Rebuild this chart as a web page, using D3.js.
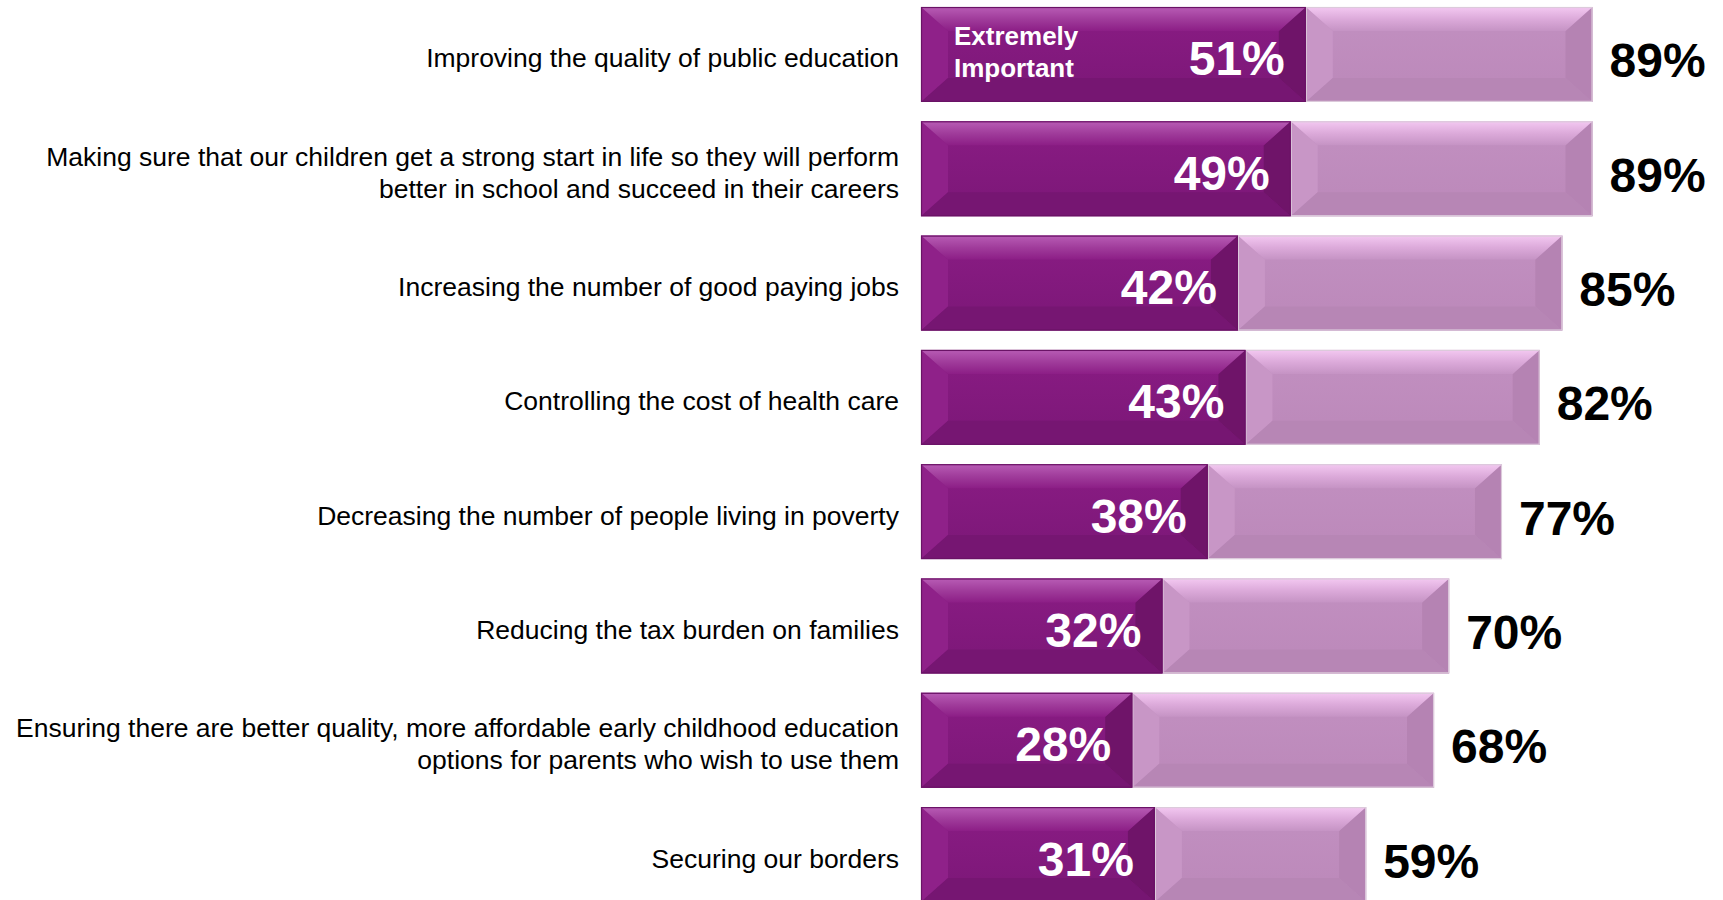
<!DOCTYPE html>
<html>
<head>
<meta charset="utf-8">
<script src="https://cdn.jsdelivr.net/npm/d3@7"></script>
<style>
  html, body { margin: 0; padding: 0; background: #fff; }
  svg { display: block; }
</style>
</head>
<body>
<svg id="chart" width="1723" height="900"></svg>
<script>
const categories = [
  ["Improving the quality of public education"],
  ["Making sure that our children get a strong start in life so they will perform", "better in school and succeed in their careers"],
  ["Increasing the number of good paying jobs"],
  ["Controlling the cost of health care"],
  ["Decreasing the number of people living in poverty"],
  ["Reducing the tax burden on families"],
  ["Ensuring there are better quality, more affordable early childhood education", "options for parents who wish to use them"],
  ["Securing our borders"]
];
const extremelyImportant = [51, 49, 42, 43, 38, 32, 28, 31];
const totalImportant = [89, 89, 85, 82, 77, 70, 68, 59];
const legendLabel = ["Extremely", "Important"];

const svg = d3.select("#chart");
const ids = categories.map((c, i) => i);

const x = d3.scaleLinear().domain([0, 100]).range([921, 1675.5]);
const y = d3.scaleBand().domain(ids).range([-2.7, 911.7]).paddingInner(0.17).paddingOuter(0.085);

const defs = svg.append("defs");
function grad(id, stops) {
  const g = defs.append("linearGradient").attr("id", id).attr("x1", 0).attr("y1", 0).attr("x2", 0).attr("y2", 1);
  stops.forEach(s => g.append("stop").attr("offset", s[0]).attr("stop-color", s[1]));
}
grad("darkFace", [[0, "#8a1c84"], [1, "#7b1777"]]);
grad("darkTop", [[0, "#b85cb5"], [0.5, "#a03c9b"], [1, "#8c1e86"]]);
grad("lightFace", [[0, "#c290c1"], [1, "#bb88b9"]]);
grad("lightTop", [[0, "#f3c8f1"], [0.5, "#dcaada"], [1, "#c593c4"]]);

const themes = {
  dark: { face: "url(#darkFace)", top: "url(#darkTop)", left: "#8f2189", right: "#6f1469", bottom: "#761672", stroke: "#6a1366" },
  light: { face: "url(#lightFace)", top: "url(#lightTop)", left: "#c896c6", right: "#b583b3", bottom: "#b786b5", stroke: "#dccadb" }
};

function bevelBar(g, x0, x1, y0, h, t) {
  const w = x1 - x0;
  const b = Math.min(27, w / 2, h / 2);
  const bv = Math.min(24, h / 2);
  g.append("rect").attr("x", x0).attr("y", y0).attr("width", w).attr("height", h).attr("fill", t.face);
  const poly = (pts, fill) => g.append("polygon").attr("points", pts.map(p => p.join(",")).join(" ")).attr("fill", fill);
  poly([[x0, y0], [x0 + b, y0 + bv], [x0 + b, y0 + h - bv], [x0, y0 + h]], t.left);
  poly([[x1, y0], [x1 - b, y0 + bv], [x1 - b, y0 + h - bv], [x1, y0 + h]], t.right);
  poly([[x0, y0], [x1, y0], [x1 - b, y0 + bv], [x0 + b, y0 + bv]], t.top);
  poly([[x0, y0 + h], [x1, y0 + h], [x1 - b, y0 + h - bv], [x0 + b, y0 + h - bv]], t.bottom);
  g.append("rect").attr("x", x0 + 0.5).attr("y", y0 + 0.5).attr("width", w - 1).attr("height", h - 1)
    .attr("fill", "none").attr("stroke", t.stroke).attr("stroke-width", 1.2);
}

const rows = svg.selectAll("g.row").data(ids).join("g").attr("class", "row");
rows.each(function(i) {
  const g = d3.select(this);
  const y0 = y(i), h = y.bandwidth();
  bevelBar(g, x(extremelyImportant[i]), x(totalImportant[i]), y0, h, themes.light);
  bevelBar(g, x(0), x(extremelyImportant[i]), y0, h, themes.dark);
  const cy = y0 + h / 2;
  const lines = categories[i];
  const lh = 32;
  const t = g.append("text")
    .attr("text-anchor", "end")
    .attr("font-family", "'Liberation Sans', Arial, sans-serif")
    .attr("font-size", 26.5)
    .attr("fill", "#000");
  lines.forEach((ln, k) => {
    t.append("tspan").attr("x", 899)
      .attr("y", cy + 13 + (k - (lines.length - 1) / 2) * lh)
      .text(ln);
  });
  g.append("text")
    .attr("x", x(extremelyImportant[i]) - 21)
    .attr("y", cy + 21)
    .attr("text-anchor", "end")
    .attr("font-family", "'Liberation Sans', Arial, sans-serif")
    .attr("font-weight", "bold")
    .attr("font-size", 48)
    .attr("fill", "#fff")
    .text(extremelyImportant[i] + "%");
  g.append("text")
    .attr("x", x(totalImportant[i]) + 17)
    .attr("y", cy + 23)
    .attr("text-anchor", "start")
    .attr("font-family", "'Liberation Sans', Arial, sans-serif")
    .attr("font-weight", "bold")
    .attr("font-size", 48)
    .attr("fill", "#000")
    .text(totalImportant[i] + "%");
});

const lg = svg.append("text")
  .attr("font-family", "'Liberation Sans', Arial, sans-serif")
  .attr("font-weight", "bold")
  .attr("font-size", 26)
  .attr("fill", "#fff");
legendLabel.forEach((ln, k) => {
  lg.append("tspan").attr("x", x(0) + 33).attr("y", y(0) + 38 + k * 31.5).text(ln);
});
</script>
</body>
</html>
